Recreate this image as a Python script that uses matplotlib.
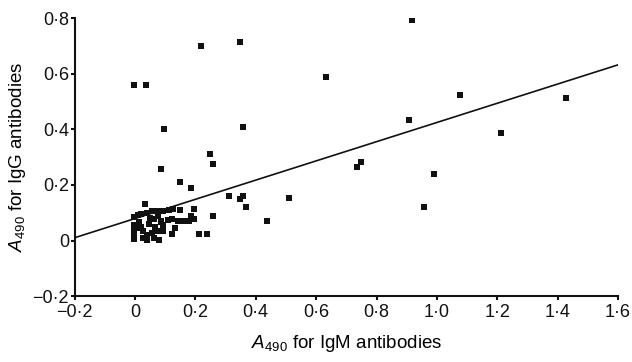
import numpy as np
import matplotlib
matplotlib.use('Agg')
import matplotlib.pyplot as plt
from matplotlib.ticker import FuncFormatter

plt.rcParams['font.family'] = ['Liberation Sans', 'DejaVu Sans']
plt.rcParams['mathtext.fontset'] = 'custom'
plt.rcParams['mathtext.rm'] = 'Liberation Sans'
plt.rcParams['mathtext.it'] = 'Liberation Sans:italic'

# IgM (x) vs IgG (y) absorbance at 490 nm
igm = [0.916, 0.220, 0.348, -0.004, 0.038, 0.097, 0.358, 0.634, 1.077, 1.427,
       0.906, 1.212, 0.749, 0.735, 0.990, 0.958, 0.510, 0.436, 0.249, 0.258,
       0.086, 0.149, 0.184, 0.311, 0.347, 0.357, 0.368, 0.032, 0.149, 0.195,
       0.184, 0.195, 0.258, 0.180, 0.133, 0.121, 0.213, 0.240, 0.114, 0.125,
       0.092, 0.108, 0.123, 0.141, 0.158,
       -0.003, 0.010, 0.019, 0.041, 0.058, 0.069, 0.085, 0.050, 0.063, 0.077,
       0.085, -0.003, -0.003, -0.003, 0.008, 0.019, 0.028, 0.041, 0.025, 0.041,
       0.058, 0.074, 0.063, 0.080, 0.094, 0.094, 0.086, -0.003, 0.012, 0.045,
       0.065]
igg = [0.793, 0.700, 0.715, 0.560, 0.560, 0.400, 0.410, 0.589, 0.523, 0.514,
       0.432, 0.388, 0.281, 0.263, 0.240, 0.122, 0.152, 0.071, 0.311, 0.276,
       0.258, 0.212, 0.189, 0.161, 0.150, 0.161, 0.119, 0.132, 0.109, 0.112,
       0.089, 0.078, 0.089, 0.070, 0.046, 0.022, 0.022, 0.022, 0.111, 0.114,
       0.105, 0.075, 0.078, 0.071, 0.069,
       0.085, 0.093, 0.095, 0.099, 0.105, 0.105, 0.107, 0.081, 0.078, 0.087,
       0.071, 0.057, 0.033, 0.023, 0.045, 0.047, 0.033, 0.021, 0.009, 0.003,
       0.027, 0.033, 0.009, 0.003, 0.033, 0.057, 0.067, 0.005, 0.065, 0.060,
       0.050]

# fitted regression line
slope = 0.3456
intercept = 0.079
line_x = [-0.2, 1.6]

fig = plt.figure(figsize=(6.32, 3.62), dpi=100)
ax = fig.add_axes([0.118, 0.182, 0.860, 0.768])

ax.scatter(igm, igg, marker='s', s=13, color='#111111', linewidths=0, zorder=3)
lx = np.array(line_x)
ax.plot(lx, intercept + slope * lx, color='#111111', lw=1.2, zorder=2)

ax.set_xlim(-0.2, 1.6)
ax.set_ylim(-0.2, 0.8)
ax.set_xticks(np.arange(-0.2, 1.61, 0.2))
ax.set_yticks(np.arange(-0.2, 0.81, 0.2))


def fmt(v, pos):
    v = round(v, 1)
    if v == 0:
        return '0'
    return ('%.1f' % v).replace('.', '\u00b7').replace('-', '\u2212')


ax.xaxis.set_major_formatter(FuncFormatter(fmt))
ax.yaxis.set_major_formatter(FuncFormatter(fmt))

for s in ['top', 'right']:
    ax.spines[s].set_visible(False)
for s in ['left', 'bottom']:
    ax.spines[s].set_linewidth(1.5)
    ax.spines[s].set_color('#111111')
ax.tick_params(direction='out', length=3, width=1.5, labelsize=13,
               colors='#111111', pad=1)
ax.tick_params(axis='x', pad=3)

ax.set_xlabel(r'$A_{490}$ for IgM antibodies', fontsize=13.5, labelpad=8)
ax.set_ylabel(r'$A_{490}$ for IgG antibodies', fontsize=13.5, labelpad=3)

plt.savefig('out.png', dpi=100)
